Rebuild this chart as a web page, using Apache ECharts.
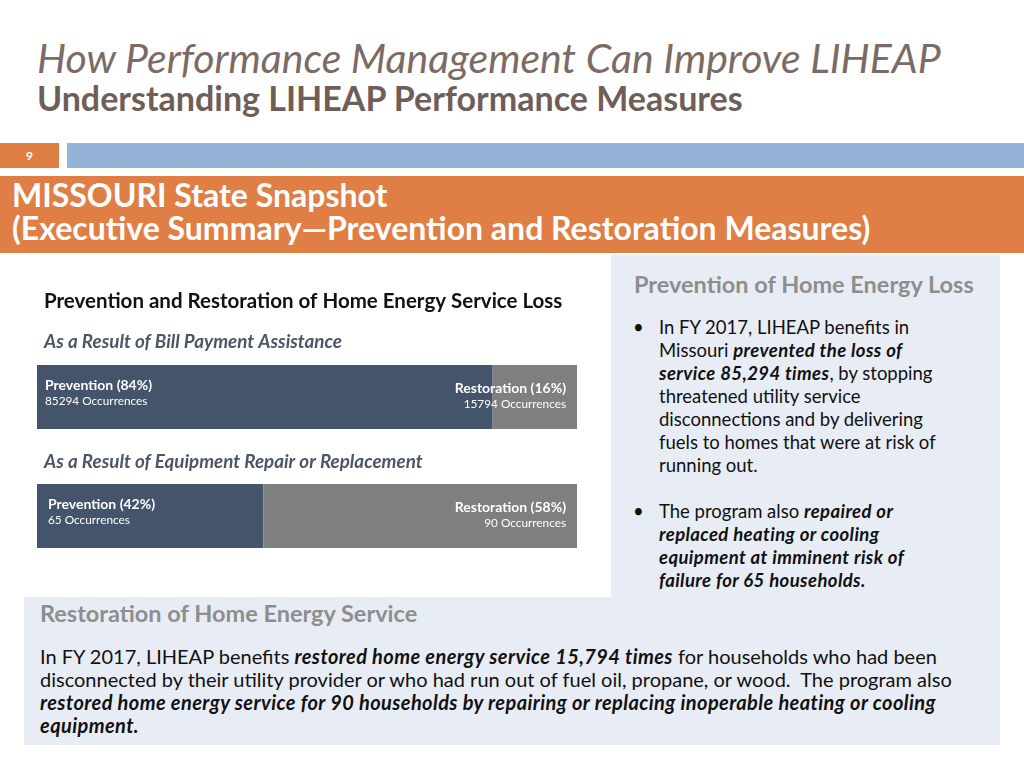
<!DOCTYPE html>
<html>
<head>
<meta charset="utf-8">
<script src="https://cdn.jsdelivr.net/npm/echarts@6/dist/echarts.min.js"></script>
<style>
  html, body { margin: 0; padding: 0; background: #fff; }
  body { width: 1024px; height: 768px; position: relative; overflow: hidden; font-family: Lato, "Open Sans", sans-serif; }
  .abs { position: absolute; white-space: nowrap; }
  #h1 { left: 37px; top: 33px; font-size: 41px; font-style: italic; color: #7b6b64; }
  #h2 { left: 37px; top: 77px; font-size: 34px; font-weight: bold; color: #6e5e57; }
  #num { left: 0; top: 143px; width: 59px; height: 25px; background: #e07f45; color: #fff; font-size: 12px; font-weight: bold; line-height: 25px; text-align: center; }
  #blue { left: 67px; top: 143px; width: 957px; height: 25px; background: #95b3d7; }
  #band { left: 0; top: 176px; width: 1024px; height: 77px; background: #df7f45; color: #fff; font-weight: bold; font-size: 32px; line-height: 33px; }
  #band div { padding: 2px 0 0 12px; }
  #rpanel { left: 611px; top: 255px; width: 389px; height: 342px; background: #e8edf5; }
  #bpanel { left: 24px; top: 597px; width: 976px; height: 148px; background: #e8edf5; }
  .ptitle { font-weight: bold; color: #8e8e8e; font-size: 23.5px; }
  #rt { left: 634px; top: 270px; }
  #bt { left: 40px; top: 599px; }
  #bullets { left: 632px; top: 316px; font-size: 18.5px; line-height: 23px; color: #111; }
  #bullets .b { position: relative; padding-left: 27px; margin-bottom: 23px; }
  #bullets .b:before { content: "\2022"; position: absolute; left: 1px; top: 0; }
  #bullets b, #para b { letter-spacing: 0.4px; }
  #para { left: 40px; top: 645px; font-size: 20px; line-height: 23px; color: #111; }
  #chart { left: 24px; top: 262px; width: 586px; height: 334px; }
</style>
</head>
<body>
<div id="h1" class="abs">How Performance Management Can Improve LIHEAP</div>
<div id="h2" class="abs">Understanding LIHEAP Performance Measures</div>
<div id="num" class="abs">9</div>
<div id="blue" class="abs"></div>
<div id="band" class="abs"><div>MISSOURI State Snapshot<br>(Executive Summary—Prevention and Restoration Measures)</div></div>
<div id="rpanel" class="abs"></div>
<div id="bpanel" class="abs"></div>
<div id="rt" class="abs ptitle">Prevention of Home Energy Loss</div>
<div id="bullets" class="abs">
  <div class="b">In FY 2017, LIHEAP benefits in<br>Missouri <b><i>prevented the loss of<br>service 85,294 times</i></b>, by stopping<br>threatened utility service<br>disconnections and by delivering<br>fuels to homes that were at risk of<br>running out.</div>
  <div class="b">The program also <b><i>repaired or<br>replaced heating or cooling<br>equipment at imminent risk of<br>failure for 65 households.</i></b></div>
</div>
<div id="bt" class="abs ptitle">Restoration of Home Energy Service</div>
<div id="para" class="abs">In FY 2017, LIHEAP benefits <b><i>restored home energy service 15,794 times</i></b> for households who had been<br>disconnected by their utility provider or who had run out of fuel oil, propane, or wood.&nbsp; The program also<br><b><i>restored home energy service for 90 households by repairing or replacing inoperable heating or cooling<br>equipment.</i></b></div>
<div id="chart" class="abs"></div>

<script>
// data
const groups = ['As a Result of Bill Payment Assistance', 'As a Result of Equipment Repair or Replacement'];
const seriesNames = ['Prevention', 'Restoration'];
const preventionCount = [85294, 65];
const restorationCount = [15794, 90];

const colors = ['#44546a', '#7f7f7f'];
const chart = echarts.init(document.getElementById('chart'));

const gridTops = [103, 222];
const barH = 64;

function share(i, v) {
  return v / (preventionCount[i] + restorationCount[i]) * 100;
}

const grids = [], xAxes = [], yAxes = [], series = [];
groups.forEach(function (g, i) {
  grids.push({ left: 13, width: 540, top: gridTops[i], height: barH });
  xAxes.push({ gridIndex: i, type: 'value', min: 0, max: 100, show: false });
  yAxes.push({ gridIndex: i, type: 'category', data: [g], show: false });
  [preventionCount, restorationCount].forEach(function (arr, s) {
    const pct = share(i, arr[i]);
    const al = s === 0 ? 'left' : 'right';
    series.push({
      type: 'bar',
      name: seriesNames[s],
      xAxisIndex: i,
      yAxisIndex: i,
      stack: 'g' + i,
      barWidth: '100%',
      data: [pct],
      itemStyle: { color: colors[s] },
      silent: true,
      label: {
        show: true,
        position: s === 0 ? 'insideLeft' : 'insideRight',
        distance: s === 0 ? (i === 0 ? 8 : 11) : 11,
        offset: s === 0 ? [0, -4] : [0, -1],
        align: al,
        formatter: '{t|' + seriesNames[s] + ' (' + Math.round(pct) + '%)}\n{n|' + arr[i] + ' Occurrences}',
        rich: {
          t: { color: '#fff', fontWeight: 'bold', fontSize: 14, fontFamily: 'Lato', lineHeight: 17, align: al },
          n: { color: '#fff', fontSize: 11.8, fontFamily: 'Lato', lineHeight: 15, align: al }
        }
      }
    });
  });
});

chart.setOption({
  animation: false,
  title: [
    { text: 'Prevention and Restoration of Home Energy Service Loss', left: 15, top: 24,
      textStyle: { fontFamily: 'Lato', fontWeight: 'bold', fontSize: 20.5, color: '#111' } },
    { text: groups[0], left: 15, top: 65,
      textStyle: { fontFamily: 'Lato', fontWeight: 'bold', fontStyle: 'italic', fontSize: 18.8, color: '#4d5666' } },
    { text: groups[1], left: 15, top: 185,
      textStyle: { fontFamily: 'Lato', fontWeight: 'bold', fontStyle: 'italic', fontSize: 18.8, color: '#4d5666' } }
  ],
  grid: grids,
  xAxis: xAxes,
  yAxis: yAxes,
  series: series
});
</script>
</body>
</html>
